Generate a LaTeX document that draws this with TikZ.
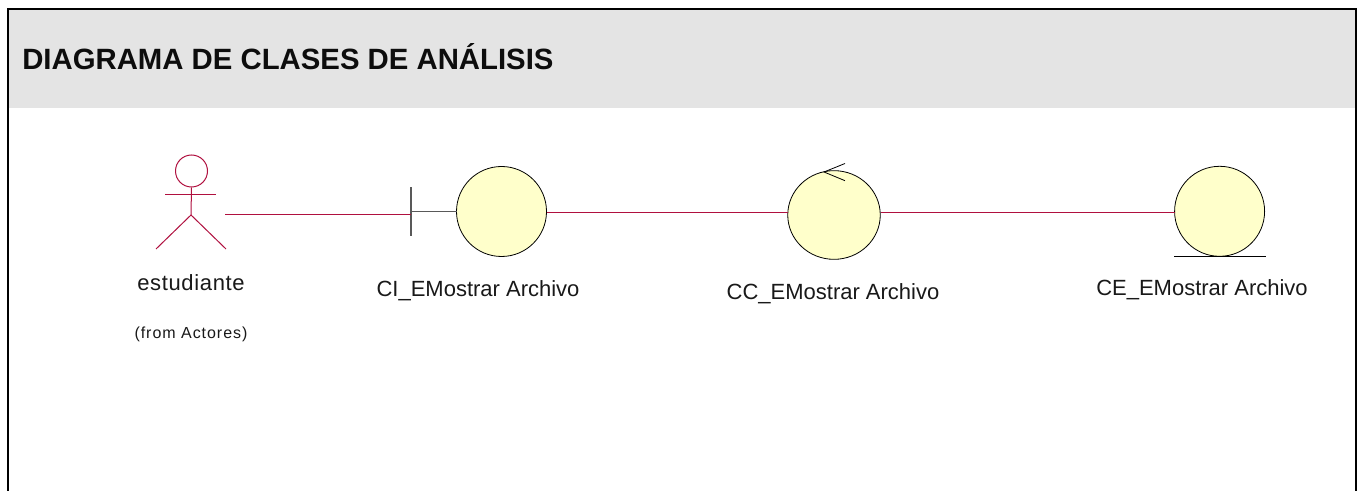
\documentclass[tikz,border=0pt]{standalone}
\usepackage{fontspec}
\usetikzlibrary{shapes.geometric}
\setmainfont{Liberation Sans}
\definecolor{rosered}{HTML}{B0103F}
\definecolor{roseyellow}{HTML}{FFFFCB}
\definecolor{bandgray}{HTML}{E4E4E4}
\tikzset{
  px/.style={x=0.75pt,y=-0.75pt},
  actorline/.style={line width=0.75pt,draw=rosered},
  assoc/.style={line width=0.85pt,draw=rosered},
  robust/.style={circle,draw=black,line width=0.6pt,fill=roseyellow,minimum size=67.5pt,inner sep=0pt,outer sep=0pt},
  lbl/.style={inner sep=0pt,font=\fontsize{16.5pt}{20pt}\selectfont,text=black!90},
}
\begin{document}
\begin{tikzpicture}[px]
\useasboundingbox (0,0) rectangle (1366,491);
\fill[white] (0,0) rectangle (1366,491);
\fill[bandgray] (9,9) rectangle (1356,108.5);
\draw[line width=1.6pt,black] (8.3,491) -- (8.3,9) -- (1356,9) -- (1356,491);
\node[anchor=base west,inner sep=0pt,font=\fontsize{22pt}{26pt}\selectfont\bfseries,text=black!95] (title) at (22,69.5) {DIAGRAMA DE CLASES DE ANÁLISIS};
% actor
\node[circle,draw=rosered,line width=0.75pt,minimum size=24pt,inner sep=0pt] (head) at (191.5,171) {};
\coordinate (hip) at (191,215);
\coordinate (armL) at (165,194.3);
\coordinate (armR) at (216,194.3);
\coordinate (footL) at (156,249);
\coordinate (footR) at (226,249);
\draw[actorline] (head.south) -- (hip);
\draw[actorline] (armL) -- (armR);
\draw[actorline] (footL) -- (hip) -- (footR);
\coordinate (actorhand) at (225,214.7);
% boundary
\node[robust] (ci) at (501.5,211.5) {};
\coordinate (bartop) at (411,187.5);
\coordinate (barbot) at (411,236.5);
\coordinate (barmid) at (411,211.5);
\coordinate (barcon) at (411,214.7);
\draw[line width=0.8pt,draw=black!65] (bartop) -- (barbot);
\draw[line width=0.8pt,draw=black!65] (barmid) -- (ci.west);
\draw[assoc] (actorhand) -- (barcon);
% control
\node[ellipse,draw=black,line width=0.6pt,fill=roseyellow,minimum width=69.4pt,minimum height=66.5pt,inner sep=0pt,outer sep=0pt] (cc) at (834,215) {};
\coordinate (tip) at (824,172);
\coordinate (tipA) at (845,163.5);
\coordinate (tipB) at (845,180.7);
\draw[line width=0.6pt,black] (tipA) -- (tip) -- (tipB);
% entity
\node[robust,minimum size=67.5pt] (ce) at (1219.6,211.3) {};
\coordinate (entL) at (1174,256.5);
\coordinate (entR) at (1265.5,256.5);
\draw[line width=0.7pt,black] (entL) -- (entR);
% associations
\coordinate (ccW) at (787.5,212.5);
\coordinate (ccE) at (880.5,212.5);
\draw[assoc] (ci.east |- ccW) -- (ccW);
\draw[assoc] (ccE) -- (ce.west |- ccE);
% labels
\node[lbl,anchor=base,font=\fontsize{16.5pt}{20pt}\selectfont\addfontfeature{LetterSpace=3}] (l1) at (191,291) {estudiante};
\node[anchor=base,inner sep=0pt,font=\fontsize{12pt}{14pt}\selectfont\addfontfeature{LetterSpace=6},text=black!90] (l1b) at (191,339) {(from Actores)};
\node[lbl,anchor=base] (l2) at (478,297) {CI\_EMostrar Archivo};
\node[lbl,anchor=base] (l3) at (833,300) {CC\_EMostrar Archivo};
\node[lbl,anchor=base] (l4) at (1202,296) {CE\_EMostrar Archivo};
\end{tikzpicture}
\end{document}
